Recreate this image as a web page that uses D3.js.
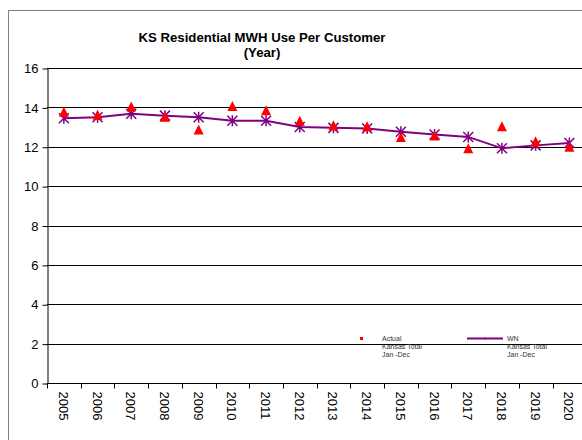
<!DOCTYPE html>
<html>
<head>
<meta charset="utf-8">
<script src="https://cdn.jsdelivr.net/npm/d3@7"></script>
<style>
  body { margin: 0; background: #fff; }
  text { font-family: Arial, "Liberation Sans", sans-serif; }
</style>
</head>
<body>
<svg width="582" height="440"></svg>
<script>
// ---- data ----
const years = ["2005","2006","2007","2008","2009","2010","2011","2012","2013","2014","2015","2016","2017","2018","2019","2020"];
const actual = [13.75, 13.6, 14.02, 13.5, 12.85, 14.05, 13.83, 13.3, 13.07, 13.02, 12.47, 12.55, 11.9, 13.02, 12.25, 11.97];
const wn = [13.45, 13.5, 13.68, 13.58, 13.5, 13.32, 13.32, 13.0, 12.96, 12.93, 12.76, 12.62, 12.5, 11.92, 12.07, 12.19];
const yTicks = [0, 2, 4, 6, 8, 10, 12, 14, 16];

const svg = d3.select("svg");

// outer chart frame
svg.append("rect")
    .attr("x", 8.5).attr("y", 10.5)
    .attr("width", 620).attr("height", 460)
    .attr("fill", "none").attr("stroke", "#808080");

const plotLeft = 47, plotTop = 68, plotBottom = 383;
const band = 33.7;

let xScale = d3.scaleBand()
    .domain(years)
    .range([plotLeft, plotLeft + band * years.length]);

let yScale = d3.scaleLinear()
    .domain([0, 16])
    .range([plotBottom, plotTop]);

// gridlines
svg.append("g")
    .selectAll("line")
    .data(yTicks.filter(d => d > 0))
    .enter().append("line")
    .attr("x1", plotLeft).attr("x2", 582)
    .attr("y1", d => Math.round(yScale(d)) + 0.5)
    .attr("y2", d => Math.round(yScale(d)) + 0.5)
    .attr("stroke", "#000");

// y axis
let yAxis = svg.append("g")
    .attr("transform", "translate(" + (plotLeft + 0.5) + ",0.5)")
    .call(d3.axisLeft(yScale).tickValues(yTicks).tickSize(5).tickPadding(4).tickSizeOuter(0));
yAxis.select(".domain").attr("stroke", "#000");
yAxis.selectAll("text")
    .attr("font-size", 13).attr("fill", "#000")
    .attr("font-family", "Arial, 'Liberation Sans', sans-serif");

// x axis: ticks between categories
let xAxis = svg.append("g")
    .attr("transform", "translate(0," + (plotBottom + 0.5) + ")");
xAxis.append("line")
    .attr("x1", plotLeft).attr("x2", 582)
    .attr("stroke", "#000");
xAxis.selectAll(".tk")
    .data(years)
    .enter().append("line")
    .attr("class", "tk")
    .attr("x1", d => Math.round(xScale(d)) + 0.5)
    .attr("x2", d => Math.round(xScale(d)) + 0.5)
    .attr("y1", 0).attr("y2", 5)
    .attr("stroke", "#000");
xAxis.selectAll(".lbl")
    .data(years)
    .enter().append("text")
    .attr("class", "lbl")
    .attr("transform", d => "translate(" + (xScale(d) + xScale.bandwidth() / 2 - 5) + ",8) rotate(90)")
    .attr("font-size", 13)
    .attr("text-anchor", "start")
    .text(d => d);

// WN line
const cx = d => xScale(d) + xScale.bandwidth() / 2;
let line = d3.line()
    .x((d, i) => cx(years[i]))
    .y(d => yScale(d));

svg.append("path")
    .datum(wn)
    .attr("d", line)
    .attr("fill", "none")
    .attr("stroke", "#800080")
    .attr("stroke-width", 2);

// star markers
const star = "M-5,-5L5,5M-5,5L5,-5M0,-5.5L0,5.5";
svg.selectAll(".star")
    .data(wn)
    .enter().append("path")
    .attr("class", "star")
    .attr("transform", (d, i) => "translate(" + cx(years[i]) + "," + yScale(d) + ")")
    .attr("d", star)
    .attr("stroke", "#800080")
    .attr("stroke-width", 1.5)
    .attr("fill", "none");

// actual triangles
svg.selectAll(".tri")
    .data(actual)
    .enter().append("path")
    .attr("class", "tri")
    .attr("transform", (d, i) => "translate(" + cx(years[i]) + "," + yScale(d) + ")")
    .attr("d", "M0,-5.5L5,4.5L-5,4.5Z")
    .attr("fill", "#ff0000");

// title
svg.append("text")
    .attr("x", 262).attr("y", 42)
    .attr("text-anchor", "middle")
    .attr("font-size", 13.2).attr("font-weight", "bold")
    .text("KS Residential MWH Use Per Customer");
svg.append("text")
    .attr("x", 262).attr("y", 57)
    .attr("text-anchor", "middle")
    .attr("font-size", 13.2).attr("font-weight", "bold")
    .text("(Year)");

// legend
let legend = svg.append("g");
legend.append("rect")
    .attr("x", 360).attr("y", 337).attr("width", 3).attr("height", 3)
    .attr("fill", "#ff0000");
legend.append("line")
    .attr("x1", 467).attr("x2", 503).attr("y1", 338.5).attr("y2", 338.5)
    .attr("stroke", "#800080").attr("stroke-width", 2);
legend.append("circle")
    .attr("cx", 485).attr("cy", 338.5).attr("r", 1)
    .attr("fill", "#800080");
const legText = [
    { x: 382, lines: ["Actual", "Kansas Total", "Jan -Dec"] },
    { x: 507, lines: ["WN", "Kansas Total", "Jan -Dec"] }
];
legText.forEach(function (g) {
    g.lines.forEach(function (t, i) {
        legend.append("text")
            .attr("x", g.x).attr("y", 341 + i * 8)
            .attr("font-size", 7)
            .attr("fill", "#333")
            .text(t);
    });
});
</script>
</body>
</html>
